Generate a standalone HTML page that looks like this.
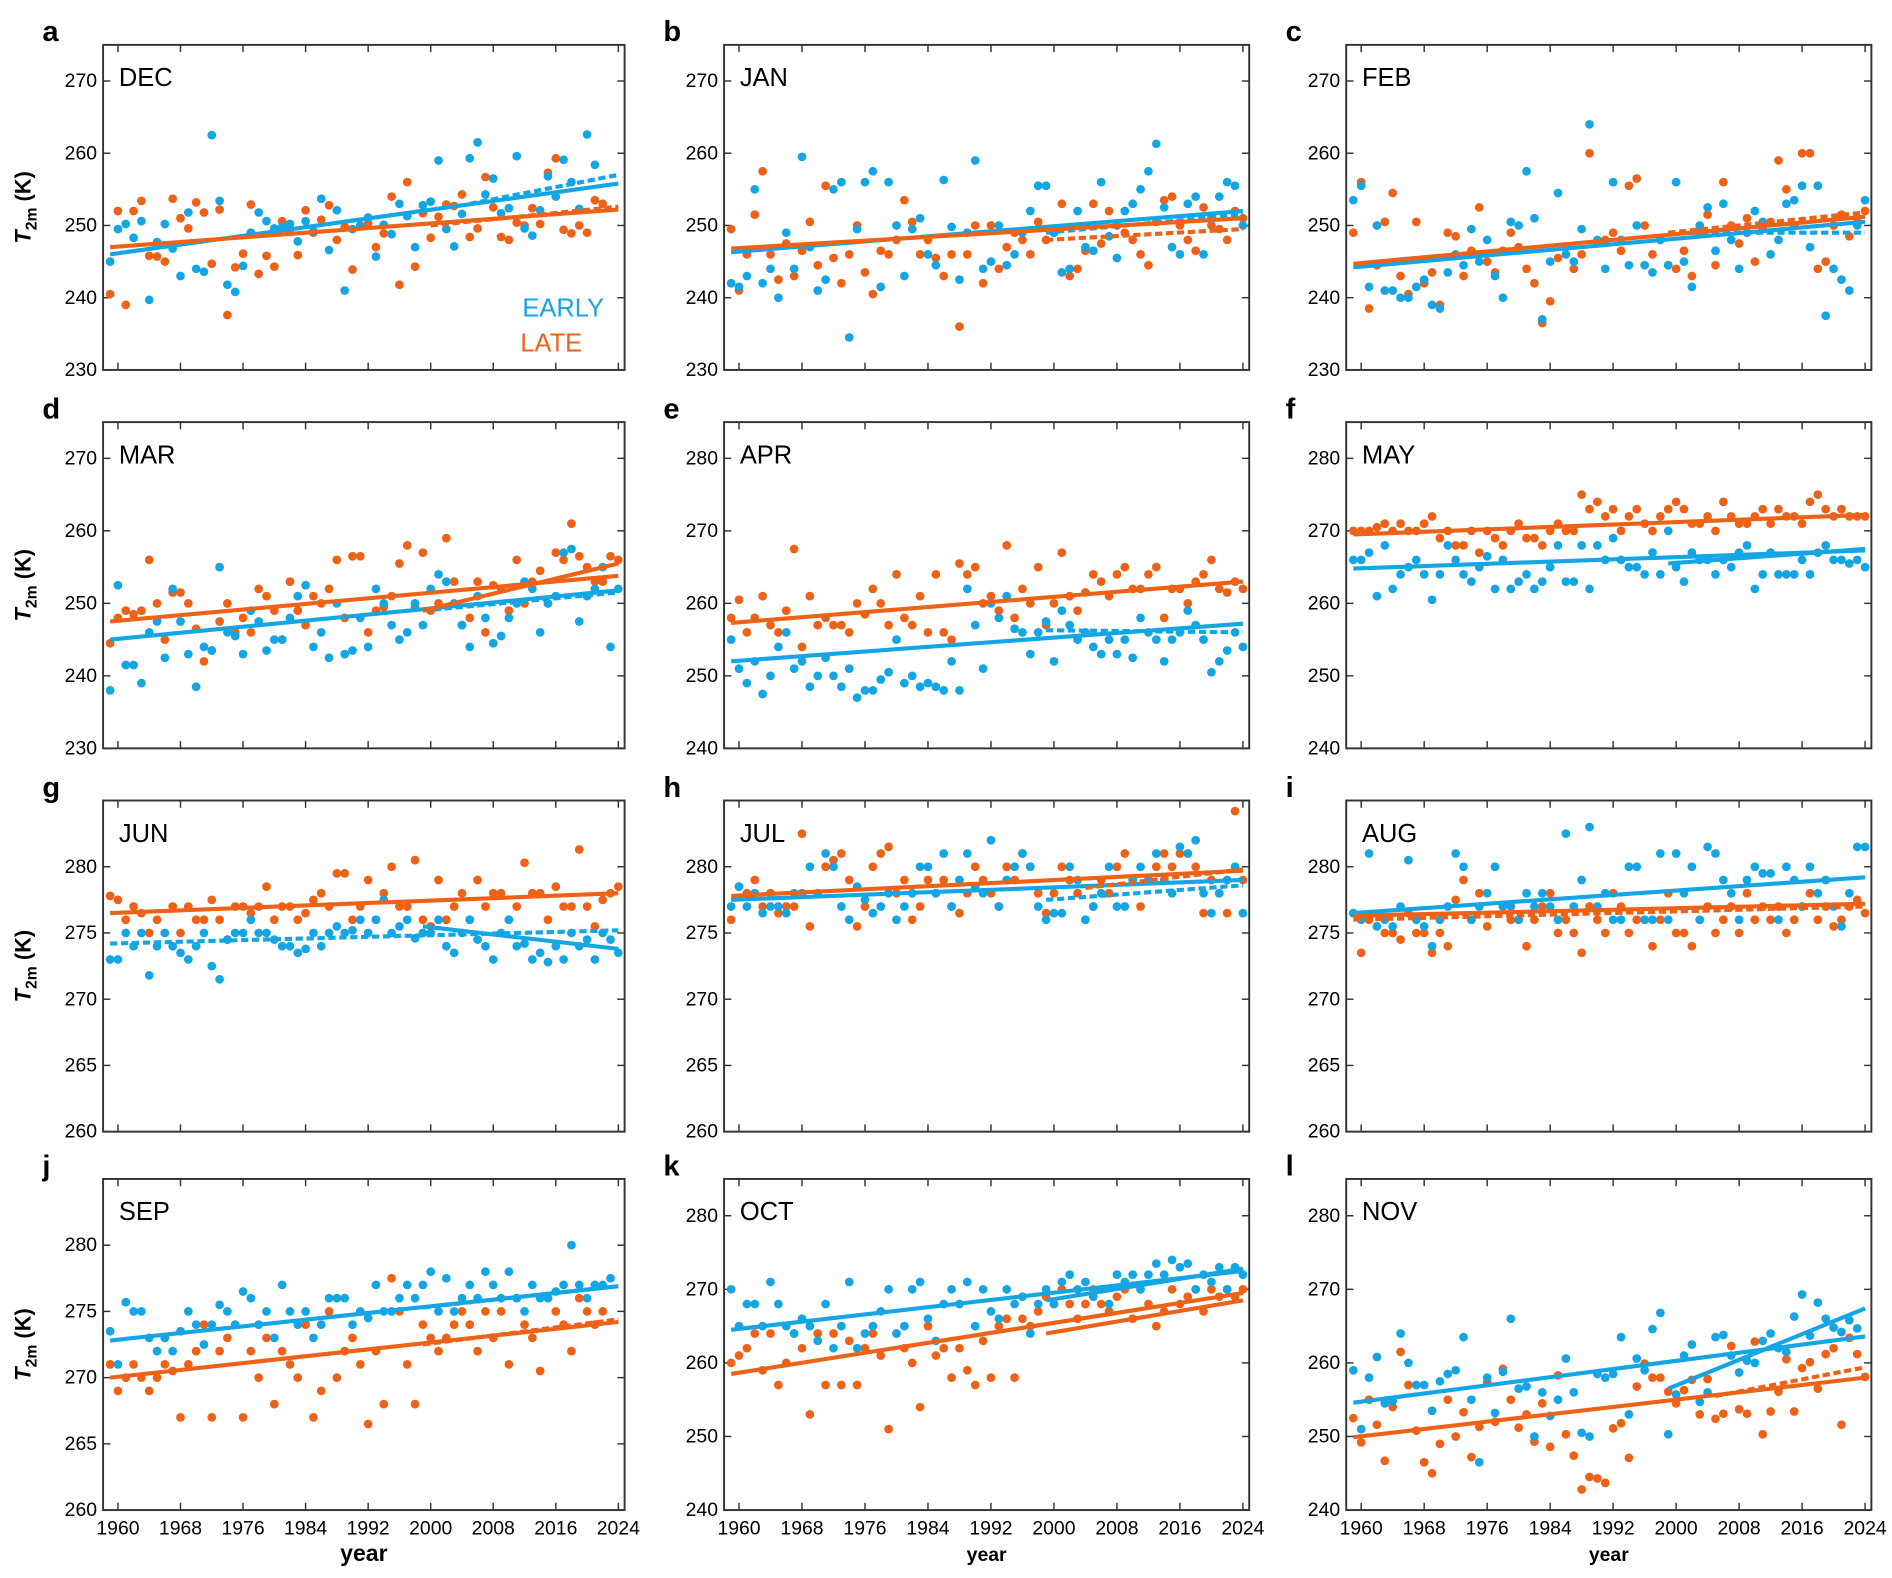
<!DOCTYPE html>
<html><head><meta charset="utf-8"><style>
html,body{margin:0;padding:0;background:#fff}
svg{display:block}
text{font-family:"Liberation Sans",Arial,sans-serif}
text.tick{font-family:"Liberation Sans Narrow","Liberation Sans",Arial,sans-serif}
</style></head><body>
<svg id="fig" xmlns="http://www.w3.org/2000/svg" width="1892" height="1578" viewBox="0 0 1560 1301" preserveAspectRatio="none"></svg>
<script>
const years0 = 1959;
const xTickLabels = [1960,1968,1976,1984,1992,2000,2008,2016,2024];
const months = ["DEC","JAN","FEB","MAR","APR","MAY","JUN","JUL","AUG","SEP","OCT","NOV"];
const letters = ["a","b","c","d","e","f","g","h","i","j","k","l"];
const yRanges = [[230,275],[230,275],[230,275],[230,275],[240,285],[240,285],[260,285],[260,285],[260,285],[260,285],[240,285],[240,285]];
const yTicks = [[230,240,250,260,270],[230,240,250,260,270],[230,240,250,260,270],[230,240,250,260,270],[240,250,260,270,280],[240,250,260,270,280],[260,265,270,275,280],[260,265,270,275,280],[260,265,270,275,280],[260,265,270,275,280],[240,250,260,270,280],[240,250,260,270,280]];
const earlyDEC=[245,249.5,250.2,248.3,250.6,239.7,247.7,250.2,246.8,243,251.8,244,243.6,262.5,253.4,241.8,240.8,244.4,249,251.8,250.6,249.6,249.8,250.2,247.8,250.6,249.2,253.7,246.6,252.1,241,249.5,250,251.1,245.7,250.1,248.8,253,251.3,247,252.8,253.3,259,249.5,247.1,251.6,259.3,261.5,254.3,256.5,251.7,252.4,259.6,249.6,248.6,252.1,256.8,254,259.1,256,252.3,262.6,258.4];
const lateDEC=[240.5,252,239,252,253.4,245.8,245.7,245,253.7,251,249.6,253.2,251.8,244.7,252.2,237.6,244.2,246.1,252.9,243.3,245.8,244.3,250.6,249.5,245.9,252.1,249,250.8,252.8,248,249.8,243.9,250,250.3,247,248.9,254,241.8,256,244.3,251.7,248.3,251.2,252.9,252.7,254.3,248.4,249.6,256.7,252.5,248.4,248,250.4,250,252.4,250.2,257.3,259.3,249.4,248.9,250,249,253.5,253];
const earlyJAN=[242,241.5,243,255,242,244,240,249,244,259.5,247,241,242.5,255,256,234.5,249.5,256,257.5,241.5,256,250,243,249.5,251,246,244.5,256.3,249.8,242.5,249,259,244,245,250,244.5,246,249,252,255.5,255.5,249,243.5,244,252,247,246.5,256,248.5,245.5,252,253,255,257.5,261.3,252.5,247,246,253,254,246,251,254,256,255.5,250];
const lateJAN=[249.5,241,246,251.5,257.5,246,242.5,247.5,243,246.5,250.5,244.5,255.5,245.5,242,246,250,243.5,240.5,246.5,246,248,253.5,250.5,246,248,245.5,243,246,236,246,250,242,250,244,247,249,248,246,250.5,248,249,253,243,244,246.5,253,247.5,252,250,249,248,246,244.5,250.5,253.5,254,250,248,246.5,252.5,250,249.5,248,252,251];
const earlyFEB=[253.5,255.5,241.5,250,241,241,240,240,241.5,242.5,239,238.5,243.5,246,244.5,249.5,245,248,243,240,250.5,250,257.5,251,237,245,254.5,246,245,249.5,264,248,244,256,248,244.5,250,244.5,243.5,248,244.5,256,245,241.5,250,252.5,246.5,253,248,244,249,252,250.5,246,248,253,253.5,255.5,247,255.5,237.5,244,242.5,241,250,253.5];
const lateFEB=[249,256,238.5,244.5,250.5,254.5,243,240.5,250.5,242,243.5,239,249,248.5,243,246.5,252.5,245,243.5,246.5,249,247,244,242,236.5,239.5,245.5,247,244,246,260,247.5,248,249,246.5,255.5,256.5,250,246,248,244.5,244,246.5,243,249,251.5,244.5,256,250,247.5,251,245,249.5,250.5,259,255,250,260,260,244,245,250,251.5,248.5,251,252];
const earlyMAR=[238,252.5,241.5,241.5,239,246,247.5,242.5,252,247.5,243,238.5,244,243.5,255,246,245.5,243,249,247.5,243.5,245,245,248,251,252.5,244,246,242.5,250,243,243.5,248,244,252,250,247,245,246,250,247,252,254,253,250,247,244,251,248,244.5,245.5,248,250,253,252,246,250,251,257,257.5,247.5,251,252,255,244,252];
const lateMAR=[244.5,248,249,248.5,249,256,250,245,251.5,251.5,250,246.5,242,243.5,247.5,250,246,248,246,252,251,249,245,253,249,247,251,250,252,256,248,256.5,256.5,246,249,249.5,251,255.5,258,249.5,257,249,250,259,253,247,248,253,246,252.5,252,249,256,250,253,254.5,250,257,256,261,256.5,255,253,253,256.5,256];
const earlyAPR=[255,251,249,252,247.5,250,254,256,251,252,248.5,250,252.5,250,248.5,251,247,248,248,249.5,250.5,255,249,250,248.5,249,248.5,248,252,248,262,257,251,260,258,261,256.5,256,253,256,257.5,252,259,257,255,256,254,253,255,253,255,252.5,258,256,255,252,255,256,259,257,255,250.5,252,253.5,256,254];
const lateAPR=[258,260.5,256,258,261,257,256,259,267.5,254,261,257,258,257,257,256,260,258.5,262,260,257,264,258,257,261,256,264,256,255,265.5,264,265,260,261,259,268,258,262,260,265,257,260,267,261,259,261.5,264,263,261,264,265,262,262,264,265,258,262,262,260,263,264,266,262,261.5,263,262];
const earlyMAY=[266,266,267,261,268,262,264,265,266,264,260.5,264,268,266,264,263,265,266.5,262,266,262,263,264,262,263,265,268,263,263,268,262,268,266,269,266,265,265,264,267,264,270,265,263,267,266,266,264,266,265,267,268,262,264,267,264,264,264,266,264,267,268,266,266,265.5,266,265];
const lateMAY=[270,270,270,270.5,271,270,271,270,270,271,272,269,270,268,268,270,267,270,269,268,270,271,269,269,268,270,271,270,270,275,273,274,272,273,270,272,273,271,270,272,273,274,273,271,271,272,270,274,272,271,271,272,273,271,273,272,272,271,274,275,273,272,273,272,272,272];
const earlyJUN=[273,273,275,274,275,271.8,274,275,274,273.5,273,274,275,272.5,271.5,274.5,275,275,276,275,275,274.5,274,274,273.5,273.8,275,274,275,275.5,275,275.2,276,275,276,277.5,275,275.5,276,274.6,275,275,276,274,273.5,275,276,274.5,274,273,275,276,274,274.2,273,273.5,272.8,274,273,275,274,274.5,273,275,274.5,273.5];
const lateJUN=[277.8,277.5,276,277,276.5,275,276,275,277,275,277,276,276,277.5,276,274.5,277,277,276.5,277,278.5,276,277,277,276,276.5,277.5,278,277,279.5,279.5,276,277,279,276,278,280,277,277,280.5,276,275.5,279,276,277,278,276,279,277,278,278,276,277,280.3,278,278,276,278.5,277,277,281.3,277,275.5,277.5,278,278.5];
const earlyJUL=[277,278.5,277,278,276.5,277,277,276.5,278,278,280,278,281,280,277,276,278.5,277.5,276.5,277,278,276,277,278,280,280,278,281,277,279,281,278.5,278,282,277,279,280,281,280,277,276,276.5,276.5,280,279,276,277,278,280,277,277,279,280,279,281,279,278,281.5,281,282,278,276.5,278,279,280,276.5];
const lateJUL=[276,278.5,278,279,277,278,276.5,277,277,282.5,275.5,278,280,280.5,281,279,275.5,277,280,281,281.5,278,279,276,277,279,278,279,277,276.5,278,280,279,278,277,280,279,281,280,278,276.5,278,280,279,278,276,277,279,278,280,281,279,277,279,280,281,280,281,281,280,276.5,279,278,276.5,284.2,279];
const earlyAUG=[276.5,276,281,275.5,276,275.5,277,280.5,276,275.5,274,276,277,281,280,276,277,278,280,277,277,276,278,277,278,277,276,282.5,277,279,283,277,278,276,276,280,280,276,276,281,276,281,278,280,276,281.5,281,279,278,276,279,280,279.5,279.5,276,280,279,277,280,278,279,277,275.5,278,281.5,281.5];
const lateAUG=[276.5,273.5,276,275.5,275,275,274.5,276.5,275,275,273.5,275,274,277.5,279,276,278,275.5,280,277,276,276,274,276,277,278,275,276,275,273.5,277,276,275,278,277,275,276,276,274,276,278,275,275,274,276,277,275,276,277,275,278,276,277,276,277,275,276,277,278,276,277,275.5,276,277,277.5,276.5];
const earlySEP=[273.5,271,275.7,275,275,273,272,273,272,273.5,275,274,272.5,274,275.5,275,274,276.5,276,274,275,273,277,275,274,275,273,274,276,276,276,274,275,274.5,277,275,275,276,277,276,277,278,275,277.5,275,276,277,276,278,277,276,278,276,275,277,276,276,276.5,277,280,277,276,277,277,277.5];
const lateSEP=[271,269,270,271,270,269,270,271,270.5,267,271,272,274,267,272,273,274,267,272,270,273,268,272,271,270,274,267,269,275,270,272,273,271,266.5,272,268,277.5,275,271,268,274,273,272,273,274,275,274,272,275,273,275,271,276,274,273,270.5,276,275,274,272,276,275,274,275];
const earlyOCT=[270,265,268,268,265,271,268,265,264,266,265,263,268,262,265,271,262,264,265,267,270,264,265,270,271,266,263,268,270,268,271,265,270,267,266,270,268,269,264,268,270,268,271,272,270,271,269,270,268,272,271,272,270,272,273.5,272,274,273,273.5,270,272,271,273,270,273,272];
const lateOCT=[260,261,262,264,259,264,257,260,264,262,253,264,257,264,257,263,257,262,264,261,251,264,262,260,254,265,261,262,258,262,259,257,263,258,265,266,258,266,265,267,269,268,270,268,266,268,270,268,267,269,270,266,270,268,265,267,270,268,269,270,267,270,269,270,269,270];
const earlyNOV=[259,251,258,260.8,254.5,254.8,264,260,257,257,253.5,257.5,258.5,259,263.5,255,246.5,258,253.2,258.8,266,256.5,256.8,250,256,252.8,255,260.6,256,250.5,250,258.5,258,258.5,263.5,253,260.6,259,264.6,266.8,250.3,255.7,261,262.5,254.7,256,263.5,263.8,261,258.7,260.3,260,263,264,262,261.5,266.3,269.3,263.7,268.2,266,264.8,264.2,265.8,264.7];
const lateNOV=[252.5,249.2,255,251.6,246.7,254,261.5,257,250.8,246.5,245,249,255,250,253.3,247.2,251.3,257.4,252,259.2,255,251.2,253,249.3,254.5,248.6,258.3,250.3,247.4,242.8,244.5,244.3,243.7,251.1,251.8,247.1,256.8,259.9,258,258,256.1,254.5,256.3,257.7,253,257.8,252.4,253.1,262.3,253.7,253.1,262.9,250.3,253.4,256.1,260.5,253.4,259.3,260.1,256.5,261.2,262,251.6,263.4,261.2,258.1];
const earlySeries=[earlyDEC,earlyJAN,earlyFEB,earlyMAR,earlyAPR,earlyMAY,earlyJUN,earlyJUL,earlyAUG,earlySEP,earlyOCT,earlyNOV];
const lateSeries=[lateDEC,lateJAN,lateFEB,lateMAR,lateAPR,lateMAY,lateJUN,lateJUL,lateAUG,lateSEP,lateOCT,lateNOV];
// trend lines: [series, startYear, startVal, endYear, endVal, dashed]
const trends=[
 [["e",1959,246,2024,255.8,0],["e",2005,253,2024,257,1],["l",1959,247,2024,252.2,0],["l",2000,250,2024,252.6,1]],
 [["e",1959,246.3,2024,252,0],["e",1999,249,2024,251.5,1],["l",1959,246.8,2024,251,0],["l",1999,248,2024,249.5,1]],
 [["e",1959,244.2,2024,250.5,0],["e",1999,249,2024,249,1],["l",1959,244.7,2024,251.2,0],["l",1999,249,2024,251.8,1]],
 [["e",1959,245,2024,251.8,0],["e",1999,249,2024,251.5,1],["l",1959,247.5,2024,253.8,0],["l",1999,249,2024,255.5,0]],
 [["e",1959,252,2024,257.2,0],["e",1999,256.3,2024,256,1],["l",1959,257.3,2024,263,0]],
 [["e",1959,264.8,2024,267.3,0],["e",1999,265.5,2024,267.5,0],["l",1959,269.5,2024,272.2,0]],
 [["e",1959,274.2,2024,275.2,1],["e",1999,275.5,2024,273.8,0],["l",1959,276.5,2024,278,0]],
 [["e",1959,277.5,2024,279,0],["e",1999,277.5,2024,278.6,1],["l",1959,277.8,2024,279.7,0],["l",2004,278.4,2024,279.8,1]],
 [["e",1959,276.5,2024,279.2,0],["l",1959,276.3,2024,277.2,0],["l",1959,276,2024,277,1]],
 [["e",1959,272.8,2024,276.9,0],["e",1999,275.3,2024,276.9,1],["l",1959,270,2024,274.2,0],["l",1999,272.5,2024,274.4,1]],
 [["e",1959,264.5,2024,272.5,0],["e",1999,268.5,2024,272.8,0],["l",1959,258.5,2024,269.5,0],["l",1999,264,2024,268.5,0]],
 [["e",1959,254.6,2024,263.6,0],["e",1999,256.5,2024,267.4,0],["l",1959,249.9,2024,258,0],["l",2005,255.5,2024,259.4,1]]
];
const BLUE="#14a5e4", ORANGE="#ee6217";
const colX=[[85,515],[597,1030],[1110,1543]];
const rowY=[[37,305],[348,617],[660,933],[972,1245]];
const X0=1958.1, X1=2024.8;
const NS="http://www.w3.org/2000/svg";
const svg=document.getElementById('fig');
function mk(tag,attrs,parent){const e=document.createElementNS(NS,tag);for(const k in attrs)e.setAttribute(k,attrs[k]);(parent||svg).appendChild(e);return e;}
for(let p=0;p<12;p++){
  const c=p%3,r=Math.floor(p/3);
  const [L,R]=colX[c],[T,B]=rowY[r];
  const [y0,y1]=yRanges[p];
  const xs=yr=>L+(yr-X0)/(X1-X0)*(R-L);
  const ys=v=>B-(v-y0)/(y1-y0)*(B-T);
  const g=mk('g',{});
  
  
  const lt=mk('text',{x:L-50,y:T-3,'font-size':24,'font-weight':'bold'},g);lt.textContent=letters[p];
  
  
  for(const t of xTickLabels){const x=xs(t);
    mk('line',{x1:x,x2:x,y1:B,y2:B-6,stroke:'#333','stroke-width':1.2},g);
    mk('line',{x1:x,x2:x,y1:T,y2:T+6,stroke:'#333','stroke-width':1.2},g);
    if(r===3){const tx=mk('text',{x:x,y:B+20,'font-size':16,'text-anchor':'middle','class':'tick'},g);tx.textContent=t;
      
      }
  }
  for(const t of yTicks[p]){const y=ys(t);
    mk('line',{x1:L,x2:L+6,y1:y,y2:y,stroke:'#333','stroke-width':1.2},g);
    mk('line',{x1:R,x2:R-6,y1:y,y2:y,stroke:'#333','stroke-width':1.2},g);
    const ty=mk('text',{x:L-5,y:y+5,'font-size':16,'text-anchor':'end','class':'tick'},g);ty.textContent=t;
    
    
  }
  const series=[[earlySeries[p],BLUE],[lateSeries[p],ORANGE]];
  for(const [arr,col] of [series[1],series[0]]){
    arr.forEach((v,i)=>{const yr=years0+i;if(yr>2024)return;
      const d=mk('circle',{cx:xs(yr),cy:ys(v),r:3.6,fill:col},g);
      
      });
  }
  for(const t of trends[p]){
    const col=t[0]==='e'?BLUE:ORANGE;
    const ln=mk('line',{x1:xs(t[1]),y1:ys(t[2]),x2:xs(t[3]),y2:ys(t[4]),stroke:col,'stroke-width':3.4},g);
    if(t[5])ln.setAttribute('stroke-dasharray','6 3');
    
    
  }
  mk('rect',{x:L,y:T,width:R-L,height:B-T,fill:'none',stroke:'#333','stroke-width':1.6},g);
  const mt=mk('text',{x:L+13,y:T+34,'font-size':21},g);mt.textContent=months[p];
  
  
  if(c===0){
    const yt=mk('text',{transform:`translate(${L-60},${(T+B)/2}) rotate(-90)`,'font-size':18,'font-weight':'bold','text-anchor':'middle'},g);
    yt.innerHTML='<tspan font-style="italic">T</tspan><tspan font-size="13" dy="5">2m</tspan><tspan dy="-5"> (K)</tspan>';
    
    
  }
  if(r===3){
    const xt=mk('text',{x:(L+R)/2,y:B+42,'font-size':c===0?19:16,'font-weight':'bold','text-anchor':'middle'},g);xt.textContent='year';
    
    
  }
  if(p===0){
    const e1=mk('text',{x:R-17,y:T+224,'font-size':21,fill:BLUE,'text-anchor':'end'},g);e1.textContent='EARLY';
    
    
    const e2=mk('text',{x:R-35,y:T+253,'font-size':21,fill:ORANGE,'text-anchor':'end'},g);e2.textContent='LATE';
    
    
  }
}
</script>
</body></html>
